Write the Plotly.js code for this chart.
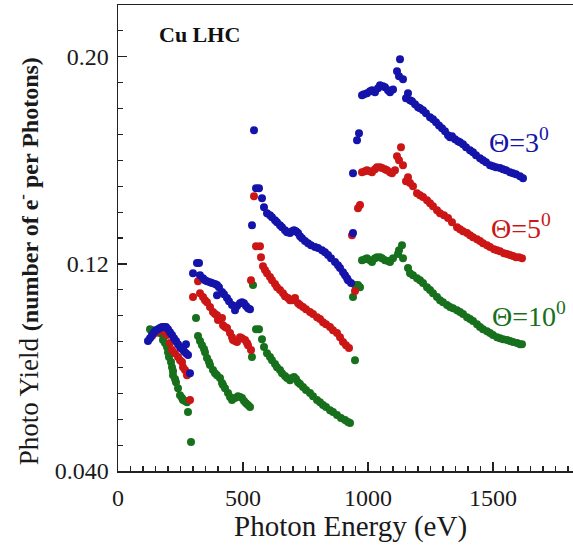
<!DOCTYPE html>
<html>
<head>
<meta charset="utf-8">
<script src="https://cdn.plot.ly/plotly-3.0.1.min.js"></script>
<style>html,body{margin:0;padding:0;background:#fff;}#chart{width:573px;height:545px;}</style>
</head>
<body>
<div id="chart"></div>
<script>
// Photon energy (eV) and photo yield for the three incidence angles
const seriesNames = ['\u0398=3<sup>0</sup>', '\u0398=5<sup>0</sup>', '\u0398=10<sup>0</sup>'];

const energy3 = [120,128,136,144,152,160,168,176,184,192,200,208,216,224,232,240,248,256,264,272,272,280,288,
  300,316,324,328,340,348,356,368,376,388,396,404,396,416,424,436,444,456,468,476,488,496,504,512,520,528,
  544,536,552,564,576,584,596,608,616,628,636,648,656,668,676,688,696,704,712,720,728,736,748,760,772,788,800,816,828,840,852,868,880,888,900,908,916,920,932,
  940,940,956,964,976,984,996,1008,1016,1028,1040,1048,1060,1068,1080,1088,1100,1116,1124,1128,1140,1152,1160,1168,1176,1188,1200,1208,1220,1232,1248,1260,1272,1284,1296,1308,1320,1328,1336,1348,1360,1368,1380,1392,1408,1420,1432,1448,1460,1472,1488,1500,1512,1528,1540,1552,1568,1580,1592,1608,1620];
const yield3 = [.0902,.0913,.0925,.0936,.0944,.0948,.0952,.0956,.0956,.0956,.0948,.0936,.0925,.0913,.0902,.0890,.0879,.0871,.0863,.0890,.0855,.0848,.0778,
  .1164,.1203,.1203,.1156,.1145,.1137,.1133,.1129,.1126,.1122,.1118,.1110,.1079,.1091,.1083,.1068,.1056,.1041,.1021,.1037,.1048,.1052,.1048,.1037,.1029,.1025,
  .1716,.1349,.1492,.1492,.1454,.1419,.1396,.1388,.1380,.1369,.1361,.1349,.1342,.1330,.1322,.1319,.1326,.1330,.1326,.1319,.1307,.1299,.1288,.1280,.1272,.1265,.1261,.1253,.1245,.1234,.1222,.1207,.1195,.1184,.1168,.1156,.1145,.1137,.1126,
  .1319,.1550,.1678,.1705,.1851,.1855,.1859,.1867,.1871,.1863,.1878,.1890,.1886,.1882,.1871,.1863,.1874,.1944,.1925,.1990,.1913,.1840,.1859,.1832,.1828,.1817,.1805,.1801,.1793,.1782,.1766,.1759,.1747,.1735,.1724,.1712,.1697,.1689,.1693,.1681,.1674,.1670,.1662,.1651,.1639,.1631,.1620,.1608,.1600,.1593,.1581,.1577,.1573,.1570,.1566,.1562,.1554,.1550,.1546,.1539,.1531];

const energy5 = [136,148,160,172,184,196,208,216,228,240,248,256,260,268,276,280,288,
  300,320,328,340,348,356,368,380,388,396,400,408,416,420,428,436,448,456,460,468,476,488,496,508,516,520,532,532,
  544,552,568,572,580,588,596,608,616,628,636,648,660,668,680,688,696,708,720,728,740,752,768,780,796,808,820,832,848,860,876,888,900,912,924,
  936,948,960,968,976,988,996,1008,1016,1028,1036,1048,1056,1068,1076,1088,1096,1108,1116,1124,1132,1140,1152,1160,1168,1180,1196,1208,1220,1236,1248,1260,1276,1288,1304,1320,1336,1356,1368,1380,1396,1408,1420,1436,1448,1460,1476,1488,1504,1516,1528,1544,1556,1568,1580,1592,1604,1616];
const yield5 = [.0921,.0933,.0940,.0944,.0940,.0925,.0894,.0867,.0855,.0840,.0828,.0821,.0801,.0790,.0770,.0778,.0674,
  .1072,.1133,.1087,.1072,.1060,.1052,.1033,.1014,.1006,.1002,.0983,.0987,.0991,.0963,.0956,.0952,.0933,.0917,.0906,.0902,.0898,.0917,.0913,.0906,.0894,.0886,.0867,.1137,
  .1461,.1268,.1268,.1226,.1191,.1176,.1164,.1149,.1137,.1122,.1110,.1099,.1087,.1075,.1068,.1060,.1060,.1068,.1048,.1041,.1033,.1025,.1014,.1006,.0994,.0987,.0975,.0967,.0956,.0944,.0933,.0917,.0898,.0886,.0875,
  .1311,.1095,.1415,.1427,.1554,.1558,.1562,.1558,.1554,.1566,.1573,.1573,.1570,.1566,.1562,.1554,.1550,.1562,.1616,.1600,.1651,.1581,.1519,.1535,.1512,.1500,.1473,.1465,.1458,.1446,.1434,.1423,.1407,.1396,.1388,.1377,.1361,.1342,.1334,.1326,.1319,.1311,.1303,.1295,.1288,.1280,.1272,.1265,.1257,.1253,.1249,.1241,.1238,.1234,.1230,.1226,.1226,.1222];

const energy10 = [128,136,148,156,168,176,180,188,196,200,204,212,216,220,220,228,232,240,248,256,260,268,276,280,292,
  312,320,328,336,344,348,356,364,368,380,388,396,408,416,420,428,440,448,456,468,480,488,496,504,512,520,528,536,540,
  552,564,576,584,596,608,616,628,636,648,656,668,676,688,696,704,712,720,728,740,752,768,780,796,808,820,832,848,860,876,892,908,920,928,
  948,940,948,960,968,976,988,996,1008,1016,1028,1036,1048,1056,1068,1080,1088,1100,1120,1124,1136,1140,1160,1168,1180,1196,1208,1220,1236,1248,1260,1276,1288,1300,1316,1328,1340,1356,1368,1380,1396,1408,1420,1436,1448,1460,1476,1488,1500,1516,1528,1540,1556,1568,1580,1596,1608,1616];
const yield10 = [.0948,.0944,.0940,.0936,.0933,.0929,.0906,.0894,.0879,.0859,.0840,.0821,.0801,.0786,.0770,.0755,.0743,.0720,.0693,.0682,.0674,.0670,.0666,.0628,.0512,
  .0991,.0921,.0902,.0886,.0871,.0859,.0836,.0821,.0809,.0790,.0778,.0770,.0759,.0740,.0732,.0720,.0701,.0686,.0674,.0682,.0689,.0686,.0682,.0670,.0662,.0655,.0647,.0840,.1118,
  .0948,.0948,.0909,.0879,.0855,.0840,.0828,.0813,.0801,.0790,.0778,.0767,.0759,.0751,.0759,.0763,.0755,.0743,.0736,.0724,.0713,.0701,.0689,.0674,.0666,.0655,.0647,.0635,.0628,.0616,.0605,.0597,.0589,.0585,
  .0828,.1072,.1118,.1118,.1110,.1214,.1218,.1222,.1214,.1207,.1222,.1226,.1226,.1222,.1214,.1211,.1207,.1222,.1238,.1253,.1272,.1222,.1184,.1164,.1156,.1145,.1137,.1126,.1110,.1099,.1087,.1072,.1060,.1052,.1041,.1033,.1029,.1021,.1014,.1006,.0994,.0987,.0979,.0967,.0956,.0948,.0940,.0933,.0925,.0917,.0913,.0909,.0906,.0902,.0898,.0894,.0890,.0890];

const yTickVals = [0.04, 0.12, 0.20];
const yTickText = ['0.040', '0.12', '0.20'];
const xTickVals = [0, 500, 1000, 1500];
const xTickText = ['0', '500', '1000', '1500'];

const colors = ['#1414aa', '#cc1616', '#17701c'];
const serif = "'Liberation Serif', 'Times New Roman', serif";

function tr(x, y, c) {
  return {x: x, y: y, type: 'scatter', mode: 'markers', cliponaxis: false,
    marker: {size: 8, color: c, line: {width: 0}}, hoverinfo: 'skip', showlegend: false};
}

const data = [tr(energy10, yield10, colors[2]), tr(energy5, yield5, colors[1]), tr(energy3, yield3, colors[0])];

const layout = {
  width: 573, height: 545,
  margin: {l: 118, r: 0, t: 5, b: 74},
  paper_bgcolor: '#fff', plot_bgcolor: '#fff',
  showlegend: false,
  font: {family: serif, color: '#1a1a1a'},
  xaxis: {
    range: [0, 1820], showgrid: false, zeroline: false,
    showline: true, linecolor: '#222', linewidth: 1.5, mirror: true,
    ticks: 'inside', ticklen: 9, tickwidth: 1.3, tickcolor: '#222',
    tickvals: xTickVals, ticktext: xTickText, ticklabelstandoff: 5,
    tickfont: {family: serif, size: 24, color: '#1a1a1a'},
    minor: {dtick: 50, tick0: 0, ticks: 'inside', ticklen: 5, tickwidth: 1.2, tickcolor: '#222', showgrid: false}
  },
  yaxis: {
    range: [0.04, 0.22], showgrid: false, zeroline: false,
    showline: true, linecolor: '#222', linewidth: 1.5, mirror: false,
    ticks: 'inside', ticklen: 9, tickwidth: 1.3, tickcolor: '#222',
    tickvals: yTickVals, ticktext: yTickText, ticklabelstandoff: 3,
    tickfont: {family: serif, size: 24, color: '#1a1a1a'},
    minor: {dtick: 0.01, tick0: 0.04, ticks: 'inside', ticklen: 5, tickwidth: 1.2, tickcolor: '#222', showgrid: false}
  },
  annotations: [
    {text: 'Photon Energy (eV)', xref: 'paper', yref: 'paper', x: 0.51, y: -0.12,
     xanchor: 'center', yanchor: 'middle', showarrow: false, font: {family: serif, size: 29, color: '#1a1a1a'}},
    {text: 'Photo Yield <b><span style="font-size:24px">(number of e<sup>-</sup> per Photons)</span></b>',
     xref: 'paper', yref: 'paper', x: -0.198, y: 0.45, textangle: -90,
     xanchor: 'center', yanchor: 'middle', showarrow: false, font: {family: serif, size: 27, color: '#1a1a1a'}},
    {text: '<b>Cu LHC</b>', xref: 'paper', yref: 'paper', x: 0.086, y: 0.936,
     xanchor: 'left', yanchor: 'middle', showarrow: false, font: {family: serif, size: 22, color: '#111'}},
    {text: seriesNames[0], xref: 'paper', yref: 'paper', x: 0.81, y: 0.71,
     xanchor: 'left', yanchor: 'middle', showarrow: false, font: {family: serif, size: 28, color: colors[0]}},
    {text: seriesNames[1], xref: 'paper', yref: 'paper', x: 0.815, y: 0.525,
     xanchor: 'left', yanchor: 'middle', showarrow: false, font: {family: serif, size: 28, color: colors[1]}},
    {text: seriesNames[2], xref: 'paper', yref: 'paper', x: 0.817, y: 0.335,
     xanchor: 'left', yanchor: 'middle', showarrow: false, font: {family: serif, size: 28, color: colors[2]}}
  ]
};

Plotly.newPlot('chart', data, layout, {staticPlot: true, displayModeBar: false});
</script>
</body>
</html>
